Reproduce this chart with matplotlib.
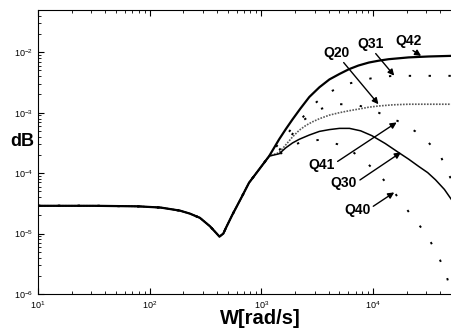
import numpy as np
import matplotlib.pyplot as plt

plt.rcParams['font.family'] = ['Liberation Sans', 'DejaVu Sans']

# low-frequency part, identical for every output
w_low = [10, 31.6, 79.4, 126, 186, 229, 282, 347, 389, 422, 457, 484, 550, 661, 776, 955, 1175]
mag_low = [2.88e-5, 2.88e-5, 2.82e-5, 2.69e-5, 2.40e-5, 2.14e-5, 1.82e-5, 1.32e-5,
           1.05e-5, 8.9e-6, 1.0e-5, 1.26e-5, 2.04e-5, 3.89e-5, 6.92e-5, 1.15e-4, 1.91e-4]

# high-frequency part of each output
w_q42 = [1445, 1660, 1905, 2239, 2692, 3311, 4074, 5012, 6109, 7413, 9204, 11220,
         13800, 20900, 31600, 50100]
q42 = [3.63e-4, 5.37e-4, 7.76e-4, 1.17e-3, 1.82e-3, 2.63e-3, 3.55e-3, 4.37e-3, 5.25e-3,
       6.03e-3, 6.76e-3, 7.24e-3, 7.67e-3, 8.22e-3, 8.51e-3, 8.71e-3]

w_q31 = [1445, 1841, 2344, 2951, 4074, 5754, 7762, 10960, 15490, 50100]
q31 = [3.16e-4, 5.25e-4, 8.32e-4, 1.38e-3, 2.19e-3, 2.95e-3, 3.39e-3, 3.89e-3, 4.07e-3, 4.07e-3]

w_q20 = [1445, 1660, 1905, 2188, 2512, 2884, 3311, 4074, 5012, 6166, 7499, 9120, 11220,
         15140, 20890, 50120]
q20 = [2.19e-4, 2.95e-4, 3.98e-4, 5.13e-4, 6.17e-4, 7.08e-4, 7.94e-4, 9.12e-4, 1.0e-3,
       1.08e-3, 1.15e-3, 1.23e-3, 1.29e-3, 1.35e-3, 1.38e-3, 1.38e-3]

w_q30 = [1445, 1660, 1905, 2188, 2692, 3311, 4074, 5012, 6166, 7762, 9772, 12880, 16980,
         20890, 25700, 30900, 36310, 43650, 50120]
q30 = [2.09e-4, 2.63e-4, 3.16e-4, 3.63e-4, 4.27e-4, 4.90e-4, 5.25e-4, 5.50e-4, 5.50e-4,
       5.01e-4, 4.17e-4, 3.09e-4, 2.19e-4, 1.70e-4, 1.29e-4, 1.02e-4, 7.76e-5, 5.37e-5, 3.72e-5]

w_q41 = [1445, 1778, 2399, 3388, 4677, 6761, 9333, 12880, 17780, 23990, 31620, 39810,
         45710, 50120]
q41 = [2.40e-4, 3.80e-4, 7.59e-4, 1.15e-3, 1.38e-3, 1.38e-3, 1.17e-3, 8.91e-4, 6.92e-4,
       4.90e-4, 3.16e-4, 2.04e-4, 1.12e-4, 7.94e-5]

w_q40 = [1445, 1778, 2344, 3311, 4786, 6607, 8710, 11220, 14450, 21880, 27540, 33110,
         38900, 44670, 50120]
q40 = [2.0e-4, 2.75e-4, 3.31e-4, 3.55e-4, 3.02e-4, 2.24e-4, 1.51e-4, 9.55e-5, 5.75e-5,
       2.04e-5, 1.20e-5, 7.08e-6, 4.07e-6, 2.24e-6, 1.12e-6]

fig = plt.figure(figsize=(4.51, 3.29), dpi=100)
ax = fig.add_axes([38/451, 1-294/329, 1-38/451, (294-10)/329])

sparse = (0, (1.2, 9))
for w, m in [(w_q31, q31), (w_q41, q41), (w_q40, q40)]:
    ax.loglog(w_low + w, mag_low + m, color='k', lw=1.4, linestyle=sparse)
ax.loglog(w_low + w_q20, mag_low + q20, color='0.35', lw=1.2, linestyle=(0, (1, 0.8)))
ax.loglog(w_low + w_q30, mag_low + q30, color='k', lw=1.1)
ax.loglog(w_low + w_q42, mag_low + q42, color='k', lw=1.6)

ax.set_xlim(10, 5e4)
ax.set_ylim(1e-6, 5e-2)
ax.spines['right'].set_visible(False)
ax.tick_params(which='both', direction='in', top=True, right=False, labelsize=6.5)
ax.tick_params(which='major', length=4)
ax.tick_params(which='minor', length=2)

arrow = dict(arrowstyle='-|>', color='k', lw=1.0, mutation_scale=9, shrinkA=0, shrinkB=0)
labels = [
    ('Q20', (11200, 1.38e-3), (4677, 9.8e-3), (0.7, 0.0)),
    ('Q31', (15500, 4.1e-3), (9550, 1.38e-2), (0.6, 0.0)),
    ('Q42', (27000, 8.7e-3), (20900, 1.55e-2), (0.5, 0.0)),
    ('Q41', (16300, 6.9e-4), (3470, 1.38e-4), (1.0, 0.6)),
    ('Q30', (17800, 2.2e-4), (5500, 6.8e-5), (1.0, 0.6)),
    ('Q40', (15500, 4.8e-5), (7240, 2.5e-5), (1.0, 0.6)),
]
for name, tip, pos, rel in labels:
    ax.annotate(name, xy=tip, xytext=pos, ha='center', va='center',
                fontsize=10, fontweight='bold',
                arrowprops=dict(arrow, relpos=rel))

fig.text(22/451, 1-141/329, 'dB', fontsize=13, fontweight='bold', ha='center', va='center')
fig.text(260/451, 1-319/329, 'W[rad/s]', fontsize=14.5, fontweight='bold',
         ha='center', va='center')

fig.savefig('out.png', dpi=100)
